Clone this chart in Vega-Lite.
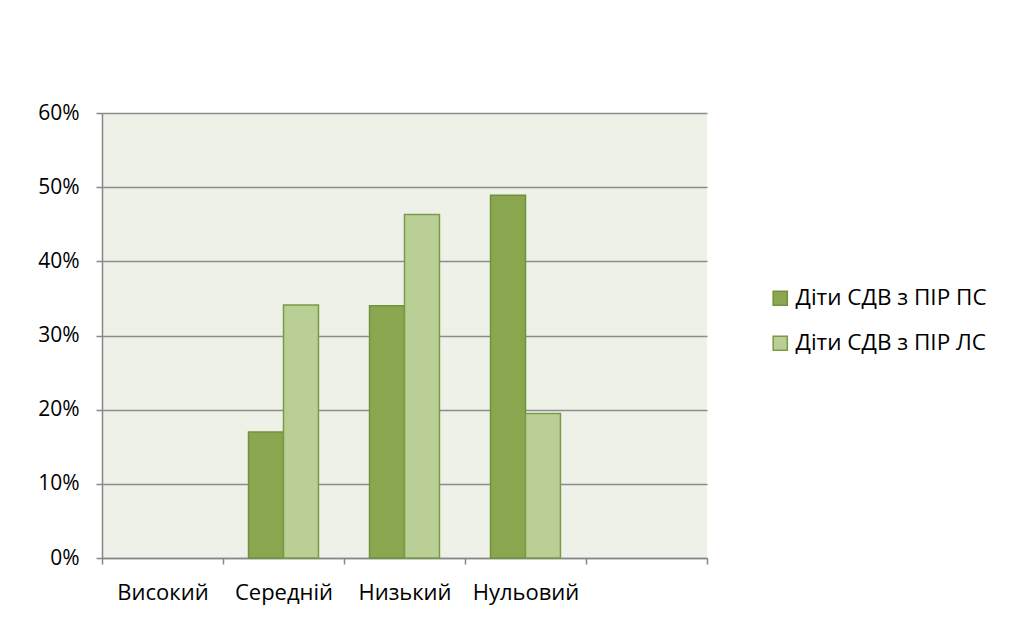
{
  "$schema": "https://vega.github.io/schema/vega-lite/v6.json",
  "autosize": {"type": "none"},
  "padding": {"left": 102, "top": 113, "right": 311, "bottom": 66},
  "width": 605,
  "height": 445,
  "background": "white",
  "config": {
    "view": {"fill": "#EEF1E8", "stroke": null},
    "font": "Open Sans",
    "axis": {"labelFont": "Open Sans", "labelFontSize": 22, "labelColor": "#000000", "domainColor": "#868686", "tickColor": "#868686", "gridColor": "#8C8C8C", "gridWidth": 1.5, "domainWidth": 1.5, "tickWidth": 1.5}
  },
  "data": {"values": [
    {"level": "Високий", "group": "Діти СДВ з ПІР ПС", "value": 0},
    {"level": "Високий", "group": "Діти СДВ з ПІР ЛС", "value": 0},
    {"level": "Середній", "group": "Діти СДВ з ПІР ПС", "value": 0.17},
    {"level": "Середній", "group": "Діти СДВ з ПІР ЛС", "value": 0.341},
    {"level": "Низький", "group": "Діти СДВ з ПІР ПС", "value": 0.34},
    {"level": "Низький", "group": "Діти СДВ з ПІР ЛС", "value": 0.463},
    {"level": "Нульовий", "group": "Діти СДВ з ПІР ПС", "value": 0.489},
    {"level": "Нульовий", "group": "Діти СДВ з ПІР ЛС", "value": 0.195}
  ]},
  "transform": [{"filter": "datum.value > 0"}],
  "mark": {"type": "bar", "strokeWidth": 1.5},
  "encoding": {
    "x": {
      "field": "level", "type": "nominal", "title": null,
      "scale": {"domain": ["Високий", "Середній", "Низький", "Нульовий", " "], "paddingInner": 0, "paddingOuter": 0},
      "axis": {"labelAngle": 0, "tickBand": "extent", "tickSize": 6, "labelPadding": 18, "grid": false}
    },
    "xOffset": {
      "field": "group", "type": "nominal",
      "scale": {"domain": ["Діти СДВ з ПІР ПС", "Діти СДВ з ПІР ЛС"], "paddingInner": 0, "paddingOuter": 0.73}
    },
    "y": {
      "field": "value", "type": "quantitative", "title": null,
      "scale": {"domain": [0, 0.6], "nice": false},
      "axis": {"values": [0, 0.1, 0.2, 0.3, 0.4, 0.5, 0.6], "format": ".0%", "tickSize": 6, "labelPadding": 17, "labelFontSize": 21, "grid": true}
    },
    "color": {
      "field": "group", "type": "nominal",
      "scale": {"domain": ["Діти СДВ з ПІР ПС", "Діти СДВ з ПІР ЛС"], "range": ["#8AA64F", "#BACF96"]},
      "legend": {"title": null, "orient": "none", "legendX": 667, "legendY": 174, "symbolType": "square", "symbolSize": 200, "symbolStrokeColor": "#71913A", "symbolStrokeWidth": 1.5, "labelFontSize": 22.5, "labelFont": "Open Sans", "labelLimit": 300, "rowPadding": 22, "labelOffset": 4}
    },
    "stroke": {
      "field": "group", "type": "nominal",
      "scale": {"domain": ["Діти СДВ з ПІР ПС", "Діти СДВ з ПІР ЛС"], "range": ["#71913A", "#7A9A45"]},
      "legend": null
    }
  }
}
